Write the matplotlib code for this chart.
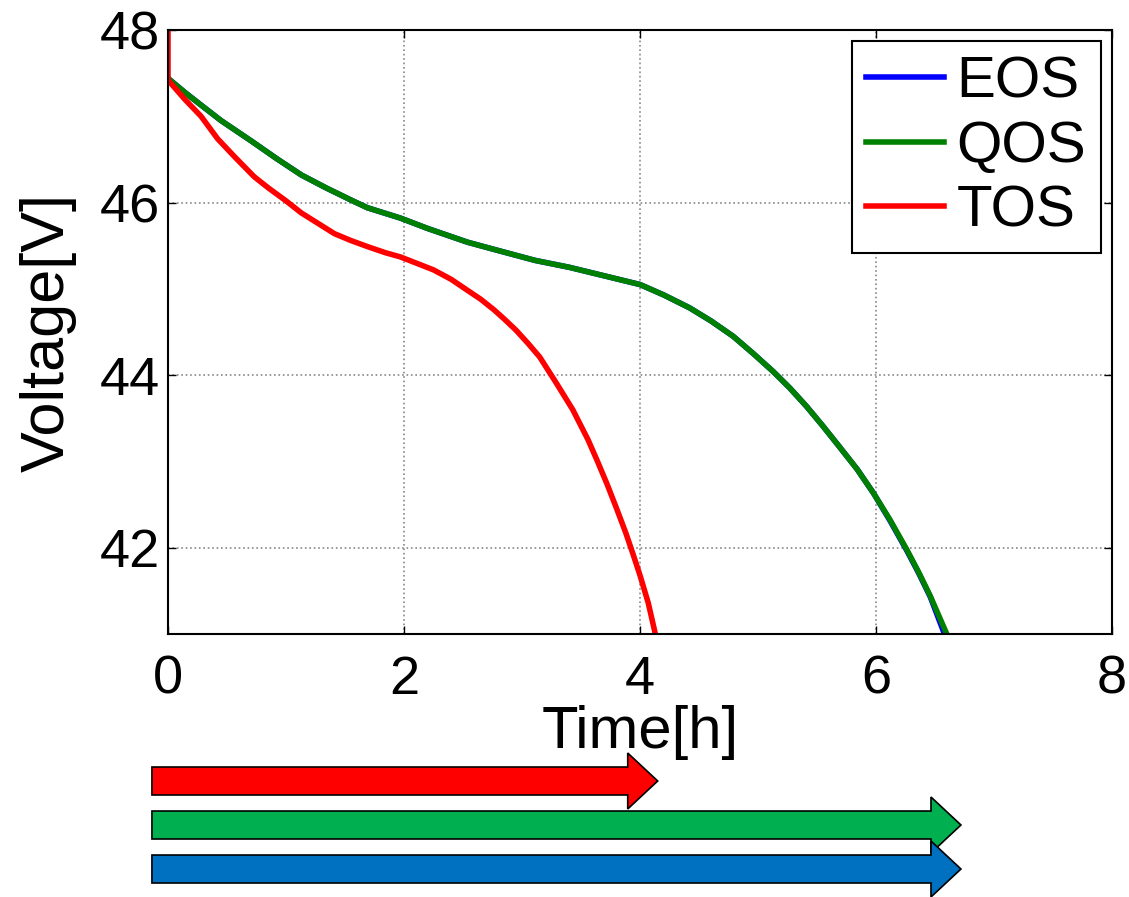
import matplotlib
matplotlib.use("Agg")
import matplotlib.pyplot as plt
from matplotlib.patches import Polygon

plt.rcParams['font.family'] = ['Liberation Sans', 'DejaVu Sans']

# discharge curves (time in hours, voltage in volts)
eos_t = [0, 0.14, 0.28, 0.45, 0.71, 0.92, 1.13, 1.34, 1.55, 1.69, 1.97, 2.2, 2.54, 2.81, 3.11, 3.4,
         3.67, 4.0, 4.2, 4.42, 4.6, 4.79, 4.96, 5.13, 5.27, 5.41, 5.55, 5.69, 5.84, 5.98, 6.12,
         6.26, 6.36, 6.46, 6.58]
eos_v = [47.44, 47.28, 47.13, 46.95, 46.71, 46.51, 46.32, 46.17, 46.03, 45.94, 45.82, 45.70, 45.54, 45.44, 45.33, 45.25,
         45.16, 45.05, 44.93, 44.78, 44.63, 44.45, 44.25, 44.04, 43.85, 43.64, 43.41, 43.17, 42.91, 42.63, 42.31,
         41.97, 41.71, 41.43, 41.0]

qos_t = [0, 0.14, 0.28, 0.45, 0.71, 0.92, 1.13, 1.34, 1.55, 1.69, 1.97, 2.2, 2.54, 2.81, 3.11, 3.4,
         3.67, 4.0, 4.2, 4.42, 4.6, 4.79, 4.96, 5.13, 5.27, 5.41, 5.55, 5.69, 5.84, 5.98, 6.12,
         6.26, 6.36, 6.46, 6.6]
qos_v = [47.44, 47.28, 47.13, 46.95, 46.71, 46.51, 46.32, 46.17, 46.03, 45.94, 45.82, 45.70, 45.54, 45.44, 45.33, 45.25,
         45.16, 45.05, 44.93, 44.78, 44.63, 44.45, 44.25, 44.04, 43.85, 43.64, 43.41, 43.17, 42.91, 42.63, 42.32,
         41.98, 41.72, 41.44, 41.0]

tos_t = [0, 0, 0.14, 0.28, 0.42, 0.565, 0.73, 0.85, 1.0, 1.13, 1.27, 1.41, 1.55, 1.69, 1.84, 1.97,
         2.25, 2.4, 2.53, 2.65, 2.76, 2.85, 2.95, 3.05, 3.15, 3.29, 3.43, 3.56, 3.64, 3.72, 3.8,
         3.88, 3.94, 4.0, 4.07, 4.13]
tos_v = [48.0, 47.42, 47.2, 47.0, 46.74, 46.53, 46.30, 46.17, 46.02, 45.88, 45.76, 45.64, 45.56, 45.49, 45.42, 45.37,
         45.22, 45.11, 44.99, 44.88, 44.76, 44.65, 44.52, 44.37, 44.21, 43.91, 43.60, 43.25, 43.00, 42.74, 42.46,
         42.17, 41.93, 41.68, 41.36, 41.0]

series = ["EOS", "QOS", "TOS"]
line_colors = ["#0000ff", "#008000", "#ff0000"]

# runtime arrows under the plot (hours)
arrow_start = -0.136
arrow_end = [4.15, 6.72, 6.72]
arrow_colors = ["#ff0000", "#00b050", "#0070c0"]

fig = plt.figure(figsize=(11.29, 8.97), dpi=100)
ax = fig.add_axes([168 / 1129, 263 / 897, 944 / 1129, 604 / 897])

for (t, v), name, c in zip([(eos_t, eos_v), (qos_t, qos_v), (tos_t, tos_v)], series, line_colors):
    ax.plot(t, v, color=c, lw=4, label=name, solid_joinstyle='round')

ax.set_xlim(0, 8)
ax.set_ylim(41, 48)
ax.set_xticks([0, 2, 4, 6, 8])
ax.set_yticks([42, 44, 46, 48])
ax.grid(True, linestyle=':', color='#888888', linewidth=1.2)
ax.tick_params(direction='in', length=6, width=1, top=True, right=True, labelsize=39)
ax.tick_params(axis='x', pad=15)
ax.tick_params(axis='y', pad=6)
for s in ax.spines.values():
    s.set_linewidth(1.5)
ax.set_xlabel('Time[h]', fontsize=43, labelpad=0)
ax.set_ylabel('Voltage[V]', fontsize=44, labelpad=16)

leg = ax.legend(loc='upper right', fontsize=42, fancybox=False, framealpha=1,
                edgecolor='black', borderaxespad=0.19, handlelength=1.33,
                handletextpad=0.22, labelspacing=0.18, borderpad=0.25)
leg.get_frame().set_linewidth(1.5)

# arrows share the time axis with the plot above
ax2 = fig.add_axes([168 / 1129, 0, 944 / 1129, 152 / 897])
ax2.set_xlim(0, 8)
ax2.set_ylim(2.636, -0.818)
ax2.axis('off')
head_len = 0.254
body = 0.318
head = 0.636
for row, (e, c) in enumerate(zip(arrow_end, arrow_colors)):
    pts = [(arrow_start, row - body), (e - head_len, row - body), (e - head_len, row - head),
           (e, row), (e - head_len, row + head), (e - head_len, row + body), (arrow_start, row + body)]
    ax2.add_patch(Polygon(pts, closed=True, facecolor=c, edgecolor='black', lw=1.2, clip_on=False))

fig.savefig('out.png', dpi=100)
